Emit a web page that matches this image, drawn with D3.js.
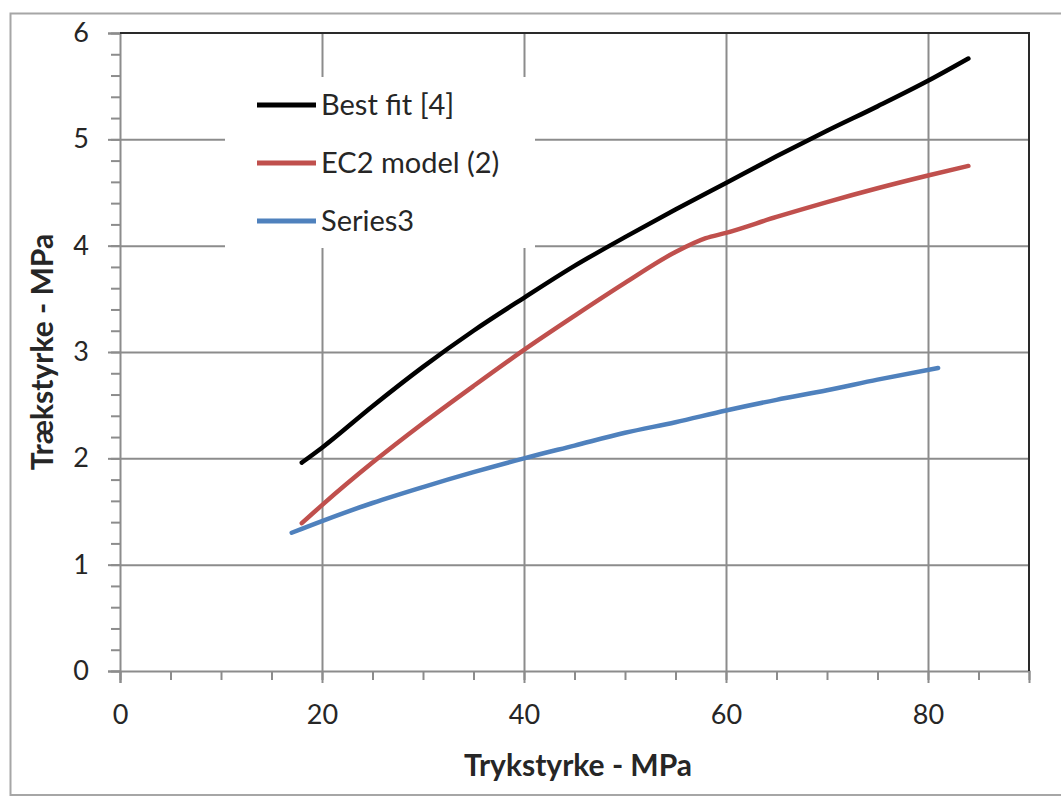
<!DOCTYPE html>
<html>
<head>
  <meta charset="utf-8">
  <script src="https://d3js.org/d3.v7.min.js"></script>
  <style>
    body { margin: 0; background: #fff; }
    text { font-family: Lato, "Open Sans", sans-serif; fill: #262626; }
  </style>
</head>
<body>
  <svg id="chart" width="1061" height="796"></svg>
  <script>

  // values
  var bestFitX = [18, 20, 25, 30, 35, 40, 45, 50, 55, 60, 65, 70, 75, 80, 84];
  var bestFitY = [1.96, 2.1, 2.49, 2.86, 3.2, 3.51, 3.81, 4.08, 4.34, 4.59, 4.84, 5.08, 5.31, 5.55, 5.76];

  var ec2X = [18, 20, 25, 30, 35, 40, 45, 50, 55, 58, 60, 65, 70, 75, 80, 84];
  var ec2Y = [1.39, 1.56, 1.96, 2.33, 2.68, 3.02, 3.34, 3.65, 3.94, 4.07, 4.12, 4.27, 4.41, 4.54, 4.66, 4.75];

  var series3X = [17, 20, 25, 30, 35, 40, 45, 50, 55, 60, 65, 70, 75, 81];
  var series3Y = [1.3, 1.41, 1.58, 1.73, 1.87, 2.0, 2.12, 2.24, 2.34, 2.45, 2.55, 2.64, 2.74, 2.85];

  var seriesNames = ["Best fit [4]", "EC2 model (2)", "Series3"];
  var seriesColors = ["#000000", "#c0504d", "#4f81bd"];

  var xTicks = [0, 20, 40, 60, 80];
  var yTicks = [0, 1, 2, 3, 4, 5, 6];
  var xTitle = "Trykstyrke - MPa";
  var yTitle = "Trækstyrke - MPa";

  function drawChart() {
    var svg = d3.select("#chart");

    // outer chart frame
    svg.append("rect")
      .attr("x", 10.5).attr("y", 13.5)
      .attr("width", 1100).attr("height", 781.5)
      .attr("fill", "none")
      .attr("stroke", "#a6a6a6")
      .attr("stroke-width", 2);

    var pLeft = 120, pRight = 1029, pTop = 33, pBottom = 671;

    var x = d3.scaleLinear().domain([0, 90]).range([pLeft, pRight]);
    var y = d3.scaleLinear().domain([0, 6]).range([pBottom, pTop]);

    var gridColor = "#8c8c8c";

    // gridlines
    svg.append("g")
      .attr("transform", "translate(0," + pBottom + ")")
      .call(d3.axisBottom(x).tickValues([20, 40, 60, 80]).tickSize(-(pBottom - pTop)).tickFormat(""))
      .call(function(g) { g.select(".domain").remove(); })
      .selectAll("line").attr("stroke", gridColor).attr("stroke-width", 2);

    svg.append("g")
      .attr("transform", "translate(" + pLeft + ",0)")
      .call(d3.axisLeft(y).tickValues([1, 2, 3, 4, 5]).tickSize(-(pRight - pLeft)).tickFormat(""))
      .call(function(g) { g.select(".domain").remove(); })
      .selectAll("line").attr("stroke", gridColor).attr("stroke-width", 2);

    // minor ticks
    svg.append("g")
      .attr("transform", "translate(0," + pBottom + ")")
      .call(d3.axisBottom(x).tickValues(d3.range(0, 91, 5)).tickSize(9).tickFormat(""))
      .call(function(g) { g.select(".domain").remove(); })
      .selectAll("line").attr("stroke", gridColor).attr("stroke-width", 2);

    svg.append("g")
      .attr("transform", "translate(" + pLeft + ",0)")
      .call(d3.axisLeft(y).tickValues(d3.range(0, 31).map(function(i) { return i / 5; })).tickSize(9).tickFormat(""))
      .call(function(g) { g.select(".domain").remove(); })
      .selectAll("line").attr("stroke", gridColor).attr("stroke-width", 2);

    // major ticks + labels
    var xAxis = svg.append("g")
      .attr("transform", "translate(0," + pBottom + ")")
      .call(d3.axisBottom(x).tickValues(xTicks).tickFormat(d3.format("d")).tickSize(12).tickPadding(22));
    xAxis.select(".domain").attr("stroke", gridColor).attr("stroke-width", 2);
    xAxis.selectAll("line").attr("stroke", gridColor).attr("stroke-width", 2);
    xAxis.selectAll("text").style("font-size", "27px").attr("fill", "#262626");

    var yAxis = svg.append("g")
      .attr("transform", "translate(" + pLeft + ",0)")
      .call(d3.axisLeft(y).tickValues(yTicks).tickFormat(d3.format("d")).tickSize(12).tickPadding(19));
    yAxis.select(".domain").attr("stroke", gridColor).attr("stroke-width", 2);
    yAxis.selectAll("line").attr("stroke", gridColor).attr("stroke-width", 2);
    yAxis.selectAll("text").style("font-size", "27px").attr("fill", "#262626");

    // top and right plot border
    svg.append("path")
      .attr("d", "M" + pLeft + "," + pTop + "H" + pRight + "V" + pBottom)
      .attr("fill", "none")
      .attr("stroke", "#2a2a2a")
      .attr("stroke-width", 2);

    // legend background (covers gridlines)
    svg.append("rect")
      .attr("x", 225).attr("y", 77)
      .attr("width", 310).attr("height", 171)
      .attr("fill", "#fff");

    // series lines
    var line = d3.line()
      .x(function(d) { return x(d[0]); })
      .y(function(d) { return y(d[1]); })
      .curve(d3.curveMonotoneX);

    var allSeries = [
      d3.zip(bestFitX, bestFitY),
      d3.zip(ec2X, ec2Y),
      d3.zip(series3X, series3Y)
    ];

    svg.append("g").selectAll("path")
      .data(allSeries)
      .enter().append("path")
      .attr("d", line)
      .attr("fill", "none")
      .attr("stroke", function(d, i) { return seriesColors[i]; })
      .attr("stroke-width", 4.5)
      .attr("stroke-linecap", "round")
      .attr("stroke-linejoin", "round");

    // legend
    var legend = svg.append("g").selectAll("g")
      .data(seriesNames)
      .enter().append("g")
      .attr("transform", function(d, i) { return "translate(257," + (105 + i * 58) + ")"; });

    legend.append("line")
      .attr("x1", 0).attr("x2", 59)
      .attr("stroke", function(d, i) { return seriesColors[i]; })
      .attr("stroke-width", 5);

    legend.append("text")
      .attr("x", 64)
      .attr("dy", "0.35em")
      .style("font-size", "29px")
      .text(function(d) { return d; });

    // axis titles
    svg.append("text")
      .attr("x", 578)
      .attr("y", 776)
      .attr("text-anchor", "middle")
      .style("font-size", "30px")
      .style("font-weight", "bold")
      .text(xTitle);

    svg.append("text")
      .attr("transform", "translate(53," + ((pTop + pBottom) / 2) + ") rotate(-90)")
      .attr("text-anchor", "middle")
      .style("font-size", "30px")
      .style("font-weight", "bold")
      .text(yTitle);
  }

  drawChart();

  </script>
</body>
</html>
